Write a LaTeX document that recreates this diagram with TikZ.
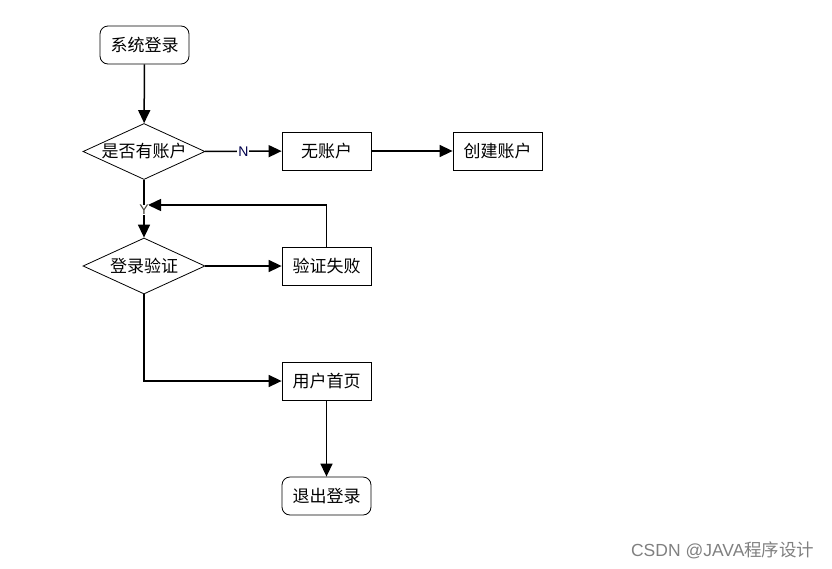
\documentclass[tikz,border=0pt]{standalone}
\usepackage{fontspec}
\setmainfont{Noto Sans CJK SC}
\newfontfamily\wmfont{Liberation Sans}
\newfontfamily\wmcjk{Noto Sans CJK SC}
\usetikzlibrary{arrows.meta,shapes.geometric}
\begin{document}
\begin{tikzpicture}[x=1pt,y=-1pt,
  box/.style={draw,line width=0.8pt,minimum width=89pt,minimum height=38pt,inner sep=0pt,font=\fontsize{17}{19}\selectfont},
  term/.style={box,rounded corners=8pt},
  dec/.style={draw,line width=0.8pt,diamond,aspect=2.2,minimum width=122pt,minimum height=56pt,inner sep=0pt,font=\fontsize{17}{19}\selectfont},
  arr/.style={line width=1.5pt,-{Triangle[length=13pt,width=12pt]}},
  lab/.style={font=\wmfont\fontsize{14}{15}\selectfont,inner sep=1pt,fill=white}]
\useasboundingbox (0,0) rectangle (832,568);
\node[term] (start) at (144.5,45) {系统登录};
\node[dec] (d1) at (144,151.5) {是否有账户};
\node[box] (noacc) at (326.5,151) {无账户};
\node[box] (create) at (497.5,151) {创建账户};
\node[dec] (d2) at (144,266) {登录验证};
\node[box] (fail) at (326.5,266) {验证失败};
\node[box] (home) at (326.5,381) {用户首页};
\node[term] (quit) at (326.5,496) {退出登录};
\coordinate (merge) at (148,205);
\draw[arr] (start) -- (d1);
\draw[arr] (d1) -- node[lab,text=black!70!blue] (nlab) {N} (noacc);
\draw[arr] (noacc) -- (create);
\draw[arr] (d1.south) -- (d2.north);
\draw[arr] (d2) -- (fail);
\draw[arr] (fail.north) |- (merge);
\node[lab,text=black!85!yellow,inner sep=0.3pt] (ylab) at (144,210) {Y};
\draw[arr] (d2.south) |- (home.west);
\draw[arr] (home) -- (quit);
\node[font=\fontsize{17.5}{19}\selectfont,text=black!50,anchor=east] (wm) at (818,550) {\wmfont CSDN @JAVA\wmcjk 程序设计};
\end{tikzpicture}
\end{document}
